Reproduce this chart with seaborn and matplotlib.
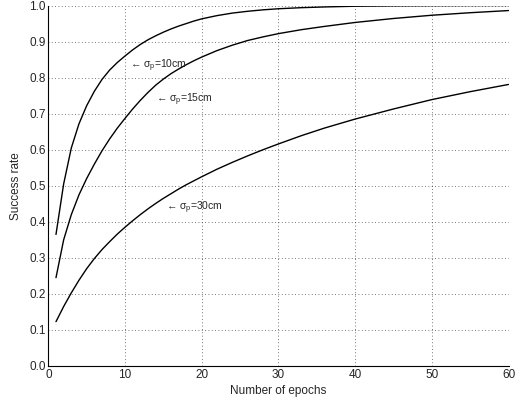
import matplotlib
matplotlib.use("Agg")
import matplotlib.pyplot as plt
import seaborn as sns
import pandas as pd

epochs = [1, 2, 3, 4, 5, 6, 7, 8, 9, 10, 11, 12, 13, 14, 15, 16, 17, 18, 19, 20,
          22, 24, 26, 28, 30, 33, 36, 40, 45, 50, 55, 60]
rate_10cm = [0.365, 0.505, 0.605, 0.672, 0.722, 0.762, 0.795, 0.821, 0.842, 0.86,
             0.877, 0.892, 0.905, 0.916, 0.926, 0.935, 0.943, 0.950, 0.957, 0.963,
             0.972, 0.979, 0.984, 0.988, 0.991, 0.994, 0.996, 0.998, 0.999, 0.9995, 0.9998, 1.0]
rate_15cm = [0.245, 0.35, 0.42, 0.475, 0.52, 0.56, 0.597, 0.63, 0.66, 0.687,
             0.713, 0.737, 0.759, 0.779, 0.796, 0.811, 0.824, 0.836, 0.847, 0.857,
             0.875, 0.89, 0.903, 0.913, 0.922, 0.933, 0.942, 0.953, 0.964, 0.973, 0.980, 0.986]
rate_30cm = [0.123, 0.165, 0.203, 0.238, 0.27, 0.298, 0.323, 0.345, 0.366, 0.385,
             0.403, 0.42, 0.436, 0.451, 0.465, 0.478, 0.491, 0.503, 0.514, 0.525,
             0.546, 0.565, 0.583, 0.6, 0.616, 0.639, 0.66, 0.685, 0.713, 0.739, 0.761, 0.781]
series_names = ["10cm", "15cm", "30cm"]
label_pos = {"10cm": (10.65, 0.833), "15cm": (14.05, 0.738), "30cm": (15.4, 0.44)}
x_ticks = [0, 10, 20, 30, 40, 50, 60]
y_ticks = [0.0, 0.1, 0.2, 0.3, 0.4, 0.5, 0.6, 0.7, 0.8, 0.9, 1.0]

rows = []
for name, vals in zip(series_names, [rate_10cm, rate_15cm, rate_30cm]):
    for e, v in zip(epochs, vals):
        rows.append({"epoch": e, "rate": v, "series": name})
df = pd.DataFrame(rows)

sns.set_style("white")
plt.rcParams["font.family"] = ["Liberation Sans", "DejaVu Sans"]
plt.rcParams["mathtext.fontset"] = "custom"
plt.rcParams["mathtext.rm"] = "Liberation Sans"
plt.rcParams["mathtext.it"] = "Liberation Sans"

fig = plt.figure(figsize=(5.24, 4.05), dpi=100)
ax = fig.add_axes([0.0922, 0.0963, 0.8783, 0.8901])

sns.lineplot(data=df, x="epoch", y="rate", hue="series", palette=["black"] * 3,
             legend=False, linewidth=1.0, ax=ax)

for name in series_names:
    x, y = label_pos[name]
    ax.text(x, y, "\u2190 \u03c3$_\\mathregular{p}$=" + name, fontsize=7.5,
            va="center", ha="left")

ax.set_xlim(0, 60)
ax.set_ylim(0, 1.0)
ax.set_xticks(x_ticks)
ax.set_yticks(y_ticks)
ax.set_yticklabels([f"{v:.1f}" for v in y_ticks])
ax.tick_params(direction="in", length=4, width=0.8, labelsize=8.5, color="black", pad=2)
ax.grid(True, linestyle=(0, (1, 3)), color="black", linewidth=0.6, alpha=0.7)
for s in ["top", "right"]:
    ax.spines[s].set_visible(False)
for s in ["left", "bottom"]:
    ax.spines[s].set_color("black")
    ax.spines[s].set_linewidth(0.8)
ax.set_xlabel("Number of epochs", fontsize=8.5, labelpad=3)
ax.set_ylabel("Success rate", fontsize=8.5, labelpad=5)

fig.savefig("out.png", dpi=100)
